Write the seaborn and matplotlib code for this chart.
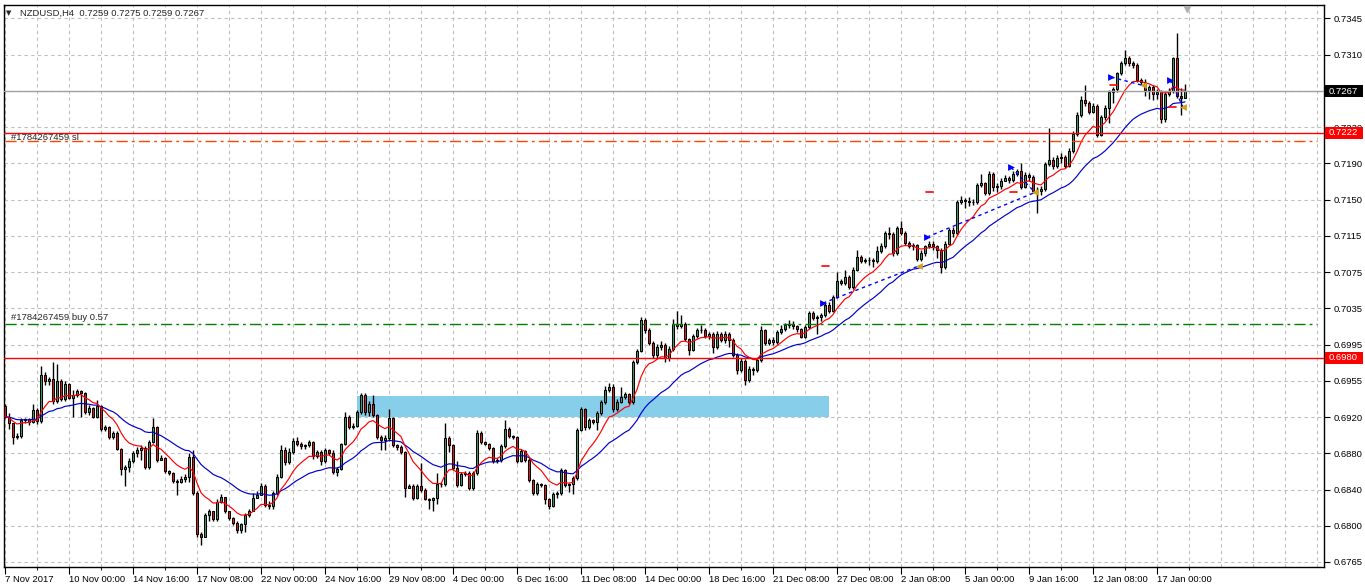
import numpy as np
import pandas as pd
import matplotlib
matplotlib.use("Agg")
import matplotlib.pyplot as plt
from matplotlib.patches import Rectangle
import seaborn as sns

# NZDUSD H4, 7 Nov 2017 .. 17 Jan 2018
header = "NZDUSD,H4  0.7259 0.7275 0.7259 0.7267"
first_open = 0.6928

closes = [
    0.6917, 0.6910, 0.6895, 0.6896, 0.6913, 0.6914, 0.6911, 0.6924, 0.6912, 0.6962,
    0.6955, 0.6957, 0.6934, 0.6955, 0.6936, 0.6952, 0.6937, 0.6940, 0.6945, 0.6942,
    0.6922, 0.6926, 0.6917, 0.6928, 0.6904, 0.6906, 0.6895, 0.6899, 0.6882, 0.6861,
    0.6863, 0.6869, 0.6878, 0.6881, 0.6883, 0.6863, 0.6890, 0.6906, 0.6870, 0.6873,
    0.6858, 0.6856, 0.6848, 0.6847, 0.6850, 0.6852, 0.6874, 0.6835, 0.6791, 0.6788,
    0.6811, 0.6815, 0.6807, 0.6825, 0.6831, 0.6815, 0.6808, 0.6803, 0.6795, 0.6801,
    0.6811, 0.6816, 0.6829, 0.6833, 0.6842, 0.6822, 0.6821, 0.6835, 0.6852, 0.6881,
    0.6868, 0.6879, 0.6891, 0.6888, 0.6885, 0.6886, 0.6890, 0.6875, 0.6879, 0.6869,
    0.6881, 0.6878, 0.6857, 0.6861, 0.6887, 0.6917, 0.6906, 0.6907, 0.6922, 0.6940,
    0.6922, 0.6931, 0.6919, 0.6895, 0.6892, 0.6894, 0.6916, 0.6886, 0.6884, 0.6879,
    0.6840, 0.6842, 0.6829, 0.6842, 0.6838, 0.6828, 0.6827, 0.6829, 0.6845, 0.6844,
    0.6894, 0.6886, 0.6862, 0.6843, 0.6855, 0.6856, 0.6840, 0.6856, 0.6899, 0.6890,
    0.6888, 0.6883, 0.6869, 0.6870, 0.6885, 0.6904, 0.6896, 0.6895, 0.6869, 0.6880,
    0.6870, 0.6849, 0.6835, 0.6845, 0.6843, 0.6828, 0.6821, 0.6834, 0.6835, 0.6860,
    0.6843, 0.6844, 0.6851, 0.6903, 0.6925, 0.6906, 0.6913, 0.6911, 0.6921, 0.6933,
    0.6946, 0.6949, 0.6925, 0.6933, 0.6938, 0.6941, 0.6933, 0.6976, 0.6988, 0.7021,
    0.7010, 0.6996, 0.6983, 0.6992, 0.6994, 0.6980, 0.6990, 0.7017, 0.7014, 0.7017,
    0.7000, 0.6989, 0.7004, 0.7010, 0.7010, 0.7004, 0.7006, 0.6992, 0.7006, 0.6999,
    0.7006, 0.6999, 0.6983, 0.6967, 0.6977, 0.6956, 0.6968, 0.6967, 0.6978, 0.7010,
    0.6996, 0.6999, 0.6997, 0.7008, 0.7011, 0.7016, 0.7017, 0.7014, 0.7011, 0.7003,
    0.7013, 0.7028, 0.7023, 0.7024, 0.7026, 0.7037, 0.7030, 0.7046, 0.7063, 0.7061,
    0.7067, 0.7056, 0.7075, 0.7089, 0.7084, 0.7085, 0.7085, 0.7084, 0.7095, 0.7100,
    0.7114, 0.7113, 0.7093, 0.7120, 0.7114, 0.7104, 0.7100, 0.7101, 0.7086, 0.7093,
    0.7100, 0.7103, 0.7100, 0.7096, 0.7078, 0.7103, 0.7118, 0.7114, 0.7148, 0.7150,
    0.7149, 0.7148, 0.7148, 0.7166, 0.7168, 0.7157, 0.7178, 0.7164, 0.7165, 0.7170,
    0.7174, 0.7171, 0.7178, 0.7181, 0.7164, 0.7177, 0.7175, 0.7160, 0.7160, 0.7162,
    0.7189, 0.7193, 0.7186, 0.7195, 0.7196, 0.7186, 0.7203, 0.7221, 0.7241, 0.7257,
    0.7254, 0.7245, 0.7251, 0.7220, 0.7239, 0.7249, 0.7266, 0.7269, 0.7286, 0.7297,
    0.7302, 0.7297, 0.7295, 0.7279, 0.7277, 0.7268, 0.7271, 0.7264, 0.7266, 0.7237,
    0.7264, 0.7267, 0.7302, 0.7262, 0.7259, 0.7267,
]

highs = [
    0.6931, 0.6921, 0.6908, 0.6899, 0.6915, 0.6916, 0.6915, 0.6931, 0.6926, 0.6971,
    0.6965, 0.6960, 0.6976, 0.6974, 0.6957, 0.6955, 0.6953, 0.6946, 0.6947, 0.6946,
    0.6943, 0.6929, 0.6927, 0.6935, 0.6930, 0.6908, 0.6907, 0.6902, 0.6901, 0.6883,
    0.6865, 0.6872, 0.6880, 0.6884, 0.6886, 0.6885, 0.6892, 0.6915, 0.6907, 0.6876,
    0.6874, 0.6860, 0.6857, 0.6850, 0.6853, 0.6855, 0.6878, 0.6881, 0.6837, 0.6793,
    0.6813, 0.6818, 0.6813, 0.6828, 0.6834, 0.6829, 0.6815, 0.6809, 0.6805, 0.6803,
    0.6813, 0.6818, 0.6835, 0.6837, 0.6846, 0.6844, 0.6826, 0.6837, 0.6855, 0.6886,
    0.6884, 0.6883, 0.6894, 0.6895, 0.6890, 0.6888, 0.6892, 0.6891, 0.6881, 0.6881,
    0.6883, 0.6882, 0.6881, 0.6863, 0.6889, 0.6922, 0.6919, 0.6910, 0.6924, 0.6942,
    0.6942, 0.6934, 0.6940, 0.6920, 0.6897, 0.6897, 0.6925, 0.6917, 0.6887, 0.6886,
    0.6880, 0.6844, 0.6844, 0.6844, 0.6867, 0.6840, 0.6829, 0.6831, 0.6856, 0.6847,
    0.6910, 0.6896, 0.6887, 0.6869, 0.6857, 0.6858, 0.6858, 0.6858, 0.6903, 0.6901,
    0.6891, 0.6889, 0.6884, 0.6872, 0.6887, 0.6913, 0.6906, 0.6897, 0.6896, 0.6882,
    0.6881, 0.6872, 0.6850, 0.6847, 0.6846, 0.6844, 0.6829, 0.6836, 0.6837, 0.6862,
    0.6861, 0.6846, 0.6853, 0.6905, 0.6927, 0.6926, 0.6915, 0.6914, 0.6923, 0.6935,
    0.6950, 0.6953, 0.6952, 0.6936, 0.6949, 0.6943, 0.6942, 0.6978, 0.6990, 0.7024,
    0.7023, 0.7012, 0.6998, 0.6995, 0.6998, 0.6996, 0.6993, 0.7022, 0.7030, 0.7026,
    0.7019, 0.7002, 0.7006, 0.7012, 0.7015, 0.7012, 0.7008, 0.7008, 0.7009, 0.7008,
    0.7009, 0.7008, 0.7001, 0.6985, 0.6980, 0.6979, 0.6971, 0.6970, 0.6980, 0.7014,
    0.7011, 0.7002, 0.7003, 0.7010, 0.7016, 0.7018, 0.7021, 0.7020, 0.7015, 0.7012,
    0.7016, 0.7030, 0.7030, 0.7026, 0.7028, 0.7039, 0.7040, 0.7048, 0.7072, 0.7065,
    0.7075, 0.7069, 0.7078, 0.7096, 0.7091, 0.7088, 0.7089, 0.7087, 0.7100, 0.7104,
    0.7116, 0.7121, 0.7115, 0.7122, 0.7127, 0.7116, 0.7106, 0.7104, 0.7103, 0.7096,
    0.7102, 0.7106, 0.7106, 0.7102, 0.7098, 0.7106, 0.7120, 0.7121, 0.7150, 0.7154,
    0.7152, 0.7153, 0.7151, 0.7168, 0.7178, 0.7169, 0.7181, 0.7180, 0.7168, 0.7174,
    0.7177, 0.7176, 0.7181, 0.7183, 0.7190, 0.7180, 0.7179, 0.7177, 0.7164, 0.7165,
    0.7191, 0.7227, 0.7196, 0.7198, 0.7200, 0.7198, 0.7206, 0.7224, 0.7244, 0.7262,
    0.7273, 0.7256, 0.7254, 0.7253, 0.7241, 0.7252, 0.7268, 0.7271, 0.7288, 0.7299,
    0.7311, 0.7305, 0.7299, 0.7297, 0.7281, 0.7280, 0.7274, 0.7273, 0.7269, 0.7268,
    0.7266, 0.7270, 0.7304, 0.7329, 0.7270, 0.7275,
]

lows = [
    0.6915, 0.6904, 0.6888, 0.6893, 0.6894, 0.6910, 0.6908, 0.6910, 0.6909, 0.6910,
    0.6951, 0.6951, 0.6931, 0.6932, 0.6934, 0.6934, 0.6936, 0.6917, 0.6938, 0.6917,
    0.6920, 0.6919, 0.6915, 0.6915, 0.6902, 0.6902, 0.6893, 0.6893, 0.6881, 0.6854,
    0.6842, 0.6857, 0.6867, 0.6874, 0.6870, 0.6861, 0.6861, 0.6889, 0.6868, 0.6870,
    0.6856, 0.6854, 0.6846, 0.6833, 0.6846, 0.6847, 0.6847, 0.6833, 0.6788, 0.6779,
    0.6795, 0.6805, 0.6805, 0.6805, 0.6824, 0.6813, 0.6806, 0.6800, 0.6792, 0.6792,
    0.6793, 0.6809, 0.6815, 0.6829, 0.6833, 0.6820, 0.6818, 0.6818, 0.6833, 0.6851,
    0.6865, 0.6866, 0.6877, 0.6885, 0.6882, 0.6882, 0.6884, 0.6871, 0.6873, 0.6865,
    0.6867, 0.6876, 0.6855, 0.6853, 0.6860, 0.6886, 0.6904, 0.6904, 0.6906, 0.6920,
    0.6919, 0.6918, 0.6917, 0.6893, 0.6881, 0.6881, 0.6891, 0.6884, 0.6881, 0.6877,
    0.6831, 0.6840, 0.6827, 0.6828, 0.6836, 0.6827, 0.6818, 0.6815, 0.6823, 0.6841,
    0.6842, 0.6879, 0.6860, 0.6841, 0.6842, 0.6853, 0.6838, 0.6838, 0.6854, 0.6888,
    0.6886, 0.6881, 0.6867, 0.6867, 0.6868, 0.6883, 0.6894, 0.6893, 0.6867, 0.6868,
    0.6868, 0.6847, 0.6833, 0.6833, 0.6841, 0.6823, 0.6818, 0.6820, 0.6830, 0.6833,
    0.6841, 0.6836, 0.6834, 0.6849, 0.6901, 0.6903, 0.6904, 0.6909, 0.6903, 0.6919,
    0.6931, 0.6943, 0.6922, 0.6923, 0.6932, 0.6936, 0.6931, 0.6931, 0.6974, 0.6986,
    0.7007, 0.6994, 0.6980, 0.6980, 0.6989, 0.6976, 0.6977, 0.6988, 0.7011, 0.7012,
    0.6998, 0.6983, 0.6987, 0.7002, 0.7007, 0.7002, 0.7000, 0.6985, 0.6990, 0.6997,
    0.6996, 0.6992, 0.6981, 0.6963, 0.6965, 0.6951, 0.6954, 0.6962, 0.6965, 0.6976,
    0.6994, 0.6994, 0.6994, 0.6995, 0.7006, 0.7009, 0.7012, 0.7011, 0.7008, 0.7001,
    0.7002, 0.7011, 0.7021, 0.7006, 0.7020, 0.7024, 0.7028, 0.7029, 0.7044, 0.7058,
    0.7059, 0.7054, 0.7054, 0.7073, 0.7082, 0.7082, 0.7080, 0.7078, 0.7082, 0.7093,
    0.7098, 0.7108, 0.7090, 0.7091, 0.7112, 0.7102, 0.7098, 0.7096, 0.7084, 0.7084,
    0.7090, 0.7098, 0.7096, 0.7088, 0.7071, 0.7076, 0.7101, 0.7110, 0.7112, 0.7146,
    0.7141, 0.7143, 0.7145, 0.7146, 0.7164, 0.7155, 0.7155, 0.7160, 0.7158, 0.7162,
    0.7170, 0.7168, 0.7169, 0.7176, 0.7162, 0.7163, 0.7170, 0.7157, 0.7136, 0.7155,
    0.7160, 0.7186, 0.7183, 0.7184, 0.7190, 0.7184, 0.7185, 0.7200, 0.7219, 0.7239,
    0.7251, 0.7242, 0.7243, 0.7218, 0.7219, 0.7236, 0.7233, 0.7254, 0.7266, 0.7284,
    0.7295, 0.7294, 0.7292, 0.7277, 0.7274, 0.7262, 0.7258, 0.7257, 0.7258, 0.7233,
    0.7234, 0.7262, 0.7265, 0.7260, 0.7241, 0.7259,
]

date_labels = ["7 Nov 2017", "10 Nov 00:00", "14 Nov 16:00", "17 Nov 08:00", "22 Nov 00:00",
               "24 Nov 16:00", "29 Nov 08:00", "4 Dec 00:00", "6 Dec 16:00", "11 Dec 08:00",
               "14 Dec 00:00", "18 Dec 16:00", "21 Dec 08:00", "27 Dec 08:00", "2 Jan 08:00",
               "5 Jan 00:00", "9 Jan 16:00", "12 Jan 08:00", "17 Jan 00:00"]
bars_per_label = 16

# the 0.7270 grid label sits fully under the bid tag, so it is left blank
price_labels = ["0.7345", "0.7310", "", "0.7230", "0.7190", "0.7150", "0.7115", "0.7075",
                "0.7035", "0.6995", "0.6955", "0.6920", "0.6880", "0.6840", "0.6800", "0.6765"]
grid_top, grid_bottom = 0.7345, 0.67607

# order / level lines
bid_price = 0.7267
sl_price = 0.7222
pending_price = 0.7213
buy_price = 0.7017
level_price = 0.6980
ticket = "#1784267459"

# demand zone rectangle
zone_start, zone_end = 88, 206
zone_low, zone_high = 0.6917, 0.6939

# trade history (bar position, price)
trade_open_bar = [204.5, 230.5, 251.5, 276.5, 291.25]
trade_open_price = [0.7039, 0.7110, 0.7185, 0.7282, 0.7279]
trade_close_bar = [228.5, 257.5, 257.5, 284.5, 294.5]
trade_close_price = [0.7079, 0.7158, 0.7158, 0.7273, 0.7250]

# ---------------------------------------------------------------------------
close = np.array(closes)
n = len(close)
bars = np.arange(n)
opens = np.concatenate([[first_open], close[:-1]])
high = np.maximum.reduce([np.array(highs), opens, close])
low = np.minimum.reduce([np.array(lows), opens, close])

s = pd.Series(close)
ma_fast = s.ewm(span=10, adjust=False).mean()
ma_slow = s.ewm(span=28, adjust=False).mean()

sns.set_style("white")
plt.rcParams['font.family'] = ['Liberation Sans', 'DejaVu Sans']
fs = 6.8

W, H = 1365, 586
fig = plt.figure(figsize=(W / 100, H / 100), dpi=100)
ax = fig.add_axes([4 / W, (H - 567) / H, 1320 / W, 562 / H])
px = 0.06042 / 562  # price per pixel

# grid
grid_kw = dict(color='#c0c0c0', linewidth=0.8, linestyle=(0, (3, 3)))
yt = np.linspace(grid_top, grid_bottom, len(price_labels))
for y in yt:
    ax.axhline(y, zorder=0, **grid_kw)
for x in np.arange(0, 330, bars_per_label // 2):
    ax.axvline(x, zorder=0, **grid_kw)

# zone
ax.fill_between([zone_start, zone_end], zone_low, zone_high, color='#87ceeb', linewidth=0, zorder=1)

# candles
bull = close >= opens
colors = np.where(bull, '#3c9c6c', '#e31a1a')
ax.vlines(bars, low, high, color='black', linewidth=1.0, zorder=2.8)
ax.bar(bars, np.abs(close - opens), bottom=np.minimum(opens, close), width=0.7,
       color=colors, edgecolor='black', linewidth=0.75, zorder=3)

# moving averages
sns.lineplot(x=bars, y=ma_slow, color='#0000cc', linewidth=0.85, ax=ax, zorder=4)
sns.lineplot(x=bars, y=ma_fast, color='red', linewidth=0.85, ax=ax, zorder=4)

# trade history
for ob, op, cb, cp in zip(trade_open_bar, trade_open_price, trade_close_bar, trade_close_price):
    ax.plot([ob, cb], [op, cp], color='#0000ff', linewidth=1, linestyle=(0, (2.5, 2.5)), zorder=5)
    ax.plot([ob - 0.25, ob + 1.5], [cp, cp], color='red', linewidth=1.2, zorder=5)
ax.scatter(trade_open_bar, trade_open_price, marker='>', s=24, color='#0000ff', zorder=6, linewidths=0)
ax.scatter(trade_close_bar, trade_close_price, marker='<', s=24, color='#d4a020', zorder=6, linewidths=0)

# horizontal level lines
ax.axhline(bid_price, color='#a0a0a0', linewidth=1, zorder=5)
ax.axhline(sl_price, color='red', linewidth=1, zorder=5)
ax.axhline(level_price, color='red', linewidth=1, zorder=5)
ax.plot([0, 328], [pending_price] * 2, color='#ff4500', linewidth=1, linestyle=(0, (8, 3, 2, 3)), zorder=5)
ax.plot([0, 328], [buy_price] * 2, color='#008000', linewidth=1, linestyle=(0, (8, 3, 2, 3)), zorder=5)

yaxis_tf = ax.get_yaxis_transform()
ax.annotate(f"{ticket} sl", xy=(7 / 1320, sl_price), xycoords=yaxis_tf, xytext=(0, -3),
            textcoords='offset points', fontsize=fs, va='center', ha='left', zorder=7)
ax.annotate(f"{ticket} buy 0.57", xy=(7 / 1320, buy_price), xycoords=yaxis_tf, xytext=(0, 1),
            textcoords='offset points', fontsize=fs, va='bottom', ha='left', zorder=7)

# axis formatting
ax.set_xlim(-0.25, 329.75)
ax.set_ylim(0.67553, 0.73595)
ax.yaxis.tick_right()
ax.set_yticks(yt)
ax.set_yticklabels(price_labels)
ax.set_xticks(np.arange(len(date_labels)) * bars_per_label)
ax.set_xticklabels(date_labels, ha='left')
ax.set_xticks(np.arange(len(date_labels)) * bars_per_label + bars_per_label // 2, minor=True)
ax.tick_params(axis='y', which='major', direction='out', length=4, width=0.8, pad=3,
               labelsize=fs, colors='black', right=True, left=False)
ax.tick_params(axis='x', which='major', direction='out', length=5, width=0.8, pad=1,
               labelsize=fs, colors='black', bottom=True)
ax.tick_params(axis='x', which='minor', direction='out', length=2, width=0.8, bottom=True)
ax.set_xlabel('')
ax.set_ylabel('')
for sp in ax.spines.values():
    sp.set_color('black')
    sp.set_linewidth(1)

# price tags on the right
for price, face in [(bid_price, 'black'), (sl_price, '#ff0000'), (level_price, '#ff0000')]:
    ax.add_patch(Rectangle((1 + 1 / 1320, price - 6 * px), 38 / 1320, 12 * px, transform=yaxis_tf,
                           facecolor=face, edgecolor='none', clip_on=False, zorder=9))
    ax.text(1 + 5 / 1320, price, f"{price:.4f}", transform=yaxis_tf, fontsize=fs, color='white',
            va='center', ha='left', zorder=10)

# chart shift marker
ax.plot([n - 0.5], [0.993], marker='v', markersize=5, color='#b0b0b0',
        transform=ax.get_xaxis_transform(), clip_on=False, zorder=8)

# header
fig.text(6 / W, 1 - 13 / H, "\u25bc", fontsize=5, va='center', ha='left', family='DejaVu Sans')
fig.text(20 / W, 1 - 13 / H, header, fontsize=fs, va='center', ha='left')

fig.savefig('out.png', dpi=100, facecolor='white')
